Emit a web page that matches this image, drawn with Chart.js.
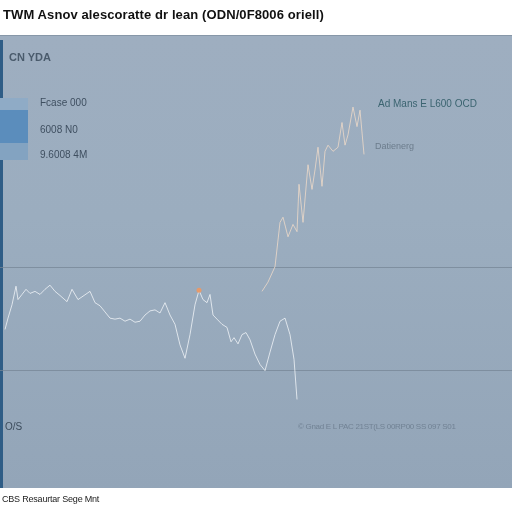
<!DOCTYPE html>
<html>
<head>
<meta charset="utf-8">
<script src="https://cdn.jsdelivr.net/npm/chart.js@4/dist/chart.umd.min.js"></script>
<style>
  html, body { margin: 0; padding: 0; background: #fff; }
  #wrap { position: relative; width: 512px; height: 512px; overflow: hidden; font-family: "Liberation Sans", Arial, sans-serif; }
  #panel { position: absolute; left: 0; top: 35px; width: 512px; height: 453px;
           background: linear-gradient(180deg, #9eaec0 0%, #9badbf 40%, #93a5b8 100%);
           border-top: 1px solid #8797a8; box-sizing: border-box; }
  #strip { position: absolute; left: 0; top: 40px; width: 3px; height: 448px; background: #2f5d86; }
  .box { position: absolute; left: 0; width: 28px; }
  #chartBox { position: absolute; left: 0; top: 0; width: 512px; height: 512px; }
  .t { position: absolute; white-space: nowrap; }
  #title { left: 3px; top: 7px; font-size: 13px; font-weight: bold; color: #111; letter-spacing: 0.1px; }
  #corner { left: 9px; top: 51px; font-size: 11px; font-weight: bold; color: #4a5b6c; }
  .leg { left: 40px; font-size: 10px; color: #3f4f60; }
  #noteA { left: 378px; top: 98px; font-size: 10px; color: #3b6470; }
  #noteB { left: 375px; top: 141px; font-size: 9px; color: #6c7c8c; }
  #axisL { left: 5px; top: 421px; font-size: 10px; color: #3c4c5c; }
  #credit { left: 298px; top: 422px; font-size: 8px; color: #718294; letter-spacing: -0.3px; }
  #source { left: 2px; top: 494px; font-size: 9px; color: #222; letter-spacing: -0.2px; }
</style>
</head>
<body>
<div id="wrap">
  <div id="panel"></div>
  <div id="strip"></div>
  <div class="box" style="top:98px;height:12px;background:#8fabc6;"></div>
  <div class="box" style="top:110px;height:33px;background:#5b8dbc;"></div>
  <div class="box" style="top:143px;height:17px;background:#83a3c1;"></div>
  <div id="chartBox"><canvas id="myChart" width="512" height="512"></canvas></div>
  <div class="t" id="title">TWM Asnov alescoratte dr lean (ODN/0F8006 oriell)</div>
  <div class="t" id="corner">CN YDA</div>
  <div class="t leg" style="top:97px;">Fcase 000</div>
  <div class="t leg" style="top:124px;">6008 N0</div>
  <div class="t leg" style="top:149px;">9.6008 4M</div>
  <div class="t" id="noteA">Ad Mans E L600 OCD</div>
  <div class="t" id="noteB">Datienerg</div>
  <div class="t" id="axisL">O/S</div>
  <div class="t" id="credit">© Gnad E L PAC 21ST(LS 00RP00 SS 097 S01</div>
  <div class="t" id="source">CBS Resaurtar Sege Mnt</div>
</div>
<script>
// main series (trading day, index level)
const daysA = [2.5, 4, 6, 8, 9, 11, 13, 15, 17.5, 20, 22.5, 25, 27.5, 30, 33.5, 36, 39, 42, 45, 47.5,
    50, 52.5, 55, 57.5, 60, 62.5, 65, 67.5, 70, 72.5, 75, 77.5, 80, 82.5, 85, 87.5, 90, 92.5, 95, 97.5,
    99.5, 101.5, 103.5, 105, 106.5, 108.5, 111, 113.5, 115.5, 117, 119, 121, 123, 125, 127.5,
    130, 132.5, 135, 137.5, 140, 142.5, 145, 147, 148.5];
const levelA = [140, 151, 164, 182, 169, 174, 179, 175, 177, 174, 179, 183, 177, 173, 167, 179, 169, 173, 177, 166,
    163, 157, 151, 150, 151, 148, 150, 147, 148, 154, 158, 159, 156, 166, 154, 145, 125, 112, 135, 164,
    178, 169, 166, 174, 154, 150, 145, 142, 128, 132, 126, 135, 137, 130, 116,
    106, 100, 118, 135, 148, 151, 135, 111, 72];

// second series, the late rally
const daysB = [131, 134, 137.5, 140, 141.5, 144, 146.5, 148.5, 149.5, 151.5, 154, 156, 157.5, 159, 161,
    162.5, 164, 166.5, 169, 171, 172.5, 174, 176.5, 178.5, 180, 182];
const levelB = [177, 186, 201, 244, 249, 230, 242, 235, 281, 244, 300, 276, 295, 317, 279,
    313, 319, 313, 317, 341, 319, 329, 356, 337, 353, 310];

const gridLevels = [100, 200];
const peakIndex = 40; // orange marker

const ctx = document.getElementById('myChart').getContext('2d');

const myChart = new Chart(ctx, {
    type: 'line',
    data: {
        datasets: [{
            label: 'Index',
            data: daysA.map((d, i) => ({ x: d, y: levelA[i] })),
            borderColor: 'rgba(246, 248, 251, 0.75)',
            borderWidth: 1,
            tension: 0,
            fill: false,
            pointRadius: c => c.dataIndex === peakIndex ? 2.5 : 0,
            pointBackgroundColor: '#e59a6c',
            pointBorderWidth: 0
        }, {
            label: 'Rally',
            data: daysB.map((d, i) => ({ x: d, y: levelB[i] })),
            borderColor: 'rgba(238, 218, 200, 0.8)',
            borderWidth: 1,
            tension: 0,
            fill: false,
            pointRadius: 0
        }]
    },
    options: {
        responsive: false,
        animation: false,
        layout: { padding: { top: 35, bottom: 24, left: 0, right: 0 } },
        scales: {
            x: {
                type: 'linear',
                min: 0,
                max: 256,
                display: false
            },
            y: {
                min: -14,
                max: 426,
                afterBuildTicks: axis => {
                    axis.ticks = gridLevels.map(v => ({ value: v }));
                },
                ticks: { display: false },
                border: { display: false },
                grid: {
                    color: 'rgba(118, 134, 150, 0.75)',
                    lineWidth: 1,
                    drawTicks: false
                }
            }
        },
        plugins: {
            legend: { display: false },
            tooltip: { enabled: false }
        }
    }
});
</script>
</body>
</html>
